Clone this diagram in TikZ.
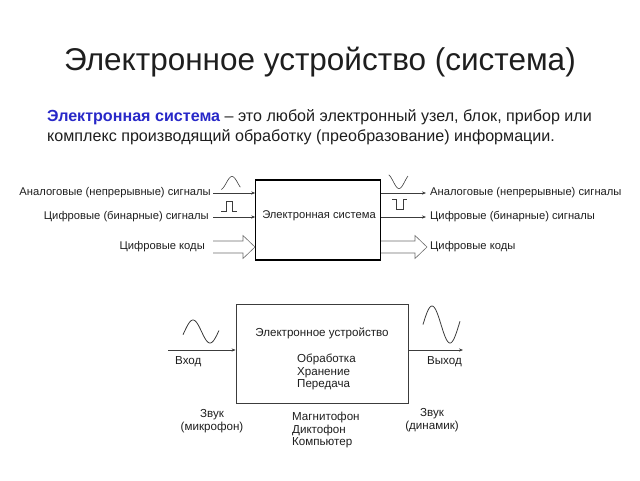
\documentclass[tikz,border=0pt]{standalone}
\usepackage{fontspec}
\setmainfont{Liberation Sans}
\usetikzlibrary{arrows.meta}
\definecolor{txtblue}{RGB}{40,40,200}
\definecolor{ink}{RGB}{30,30,30}
\definecolor{wire}{RGB}{60,60,60}
\definecolor{hollow}{RGB}{110,110,110}
\tikzset{
  small/.style={font=\fontsize{11.2}{13}\selectfont, text=ink, inner sep=0pt},
  mid/.style={font=\fontsize{11.6}{12.5}\selectfont, text=ink, inner sep=0pt},
  sig/.style={draw=wire, line width=0.6pt, -{Stealth[length=4pt,width=3.2pt]}},
  wave/.style={draw=wire, line width=0.6pt},
  fat/.style={draw=hollow, line width=0.6pt, fill=white, line join=miter},
}
\begin{document}
\begin{tikzpicture}[x=1pt,y=-1pt]
\useasboundingbox (0,0) rectangle (640,480);

% title
\node[font=\fontsize{31.5}{36}\selectfont, text=ink, inner sep=0pt] (title) at (320,62) {Электронное устройство (система)};

% paragraph
\node[font=\fontsize{16.1}{20}\selectfont, text=ink, inner sep=0pt, anchor=west] (para1) at (47,117)
  {\textcolor{txtblue}{\bfseries Электронная система} – это любой электронный узел, блок, прибор или};
\node[font=\fontsize{16.1}{20}\selectfont, text=ink, inner sep=0pt, anchor=west] (para2) at (47,137)
  {комплекс производящий обработку (преобразование) информации.};

% ---------- top diagram ----------
\node[draw=black, line width=1.6pt, minimum width=125pt, minimum height=80pt, inner sep=0pt] (sys) at (318,220) {};
\node[small] (systxt) at (319,216) {Электронная система};

% left labels
\node[small, anchor=east] (inA) at (211,193) {Аналоговые (непрерывные) сигналы};
\node[small, anchor=east] (inD) at (209,217) {Цифровые (бинарные) сигналы};
\node[small, anchor=east] (inC) at (205,247) {Цифровые коды};

\coordinate (a1) at (213,193);
\coordinate (a2) at (255.2,193);
\coordinate (d1) at (213,217);
\coordinate (d2) at (255.2,217);
\draw[sig] (a1) -- (a2);
\draw[sig] (d1) -- (d2);

% left waves
\draw[wave] plot[domain=-170:130, samples=40] ({232+\x*0.064},{183-6.5*cos(\x)});
\draw[wave] (221,211) -- (226,211) -- (226,201) -- (232,201) -- (232,211) -- (237,211);

% left hollow arrow
\path[fat] (213,241) -- (243,241) -- (243,235.5) -- (255,247) -- (243,258.5) -- (243,253) -- (213,253);

% right labels
\node[small, anchor=west] (outA) at (430,193) {Аналоговые (непрерывные) сигналы};
\node[small, anchor=west] (outD) at (430,217) {Цифровые (бинарные) сигналы};
\node[small, anchor=west] (outC) at (430,247) {Цифровые коды};

\coordinate (b1) at (381,193);
\coordinate (b2) at (426,193);
\coordinate (e1) at (381,217);
\coordinate (e2) at (426,217);
\draw[sig] (b1) -- (b2);
\draw[sig] (e1) -- (e2);

% right waves
\draw[wave] plot[domain=-160:140, samples=40] ({399+\x*0.064},{181.5+7*cos(\x)});
\draw[wave] (392,199) -- (396,199) -- (396,209) -- (403,209) -- (403,199) -- (407,199);

% right hollow arrow
\path[fat] (381,241) -- (415,241) -- (415,235.5) -- (427,247) -- (415,258.5) -- (415,253) -- (381,253);

% ---------- bottom diagram ----------
\node[draw=wire, line width=0.8pt, minimum width=172pt, minimum height=99pt, inner sep=0pt] (dev) at (322,353.5) {};
\node[mid] (devtxt) at (322,333) {Электронное устройство};
\node[mid, anchor=north west, align=left] (ops) at (297,354) {Обработка\\Хранение\\Передача};

\coordinate (in1) at (168,350);
\coordinate (in2) at (235.6,350);
\coordinate (out1) at (408.4,350);
\coordinate (out2) at (463,350);
\draw[sig] (in1) -- (in2);
\draw[sig] (out1) -- (out2);

\node[mid, anchor=west] (vhod) at (175,362) {Вход};
\node[mid, anchor=east] (vyhod) at (462,362) {Выход};

% bottom waves
\draw[wave, line width=0.8pt] plot[domain=-16:365, samples=60] ({193+(\x-90)/180*17},{331.5-11.5*sin(\x)});
\draw[wave, line width=0.8pt] plot[domain=0:370, samples=60] ({432+(\x-90)/180*18},{324.5-18.5*sin(\x)});

\node[mid, align=center] (mic) at (212,421) {Звук\\(микрофон)};
\node[mid, anchor=north west, align=left] (dev2) at (292,412) {Магнитофон\\Диктофон\\Компьютер};
\node[mid, align=center] (spk) at (432,420) {Звук\\(динамик)};
\end{tikzpicture}
\end{document}
